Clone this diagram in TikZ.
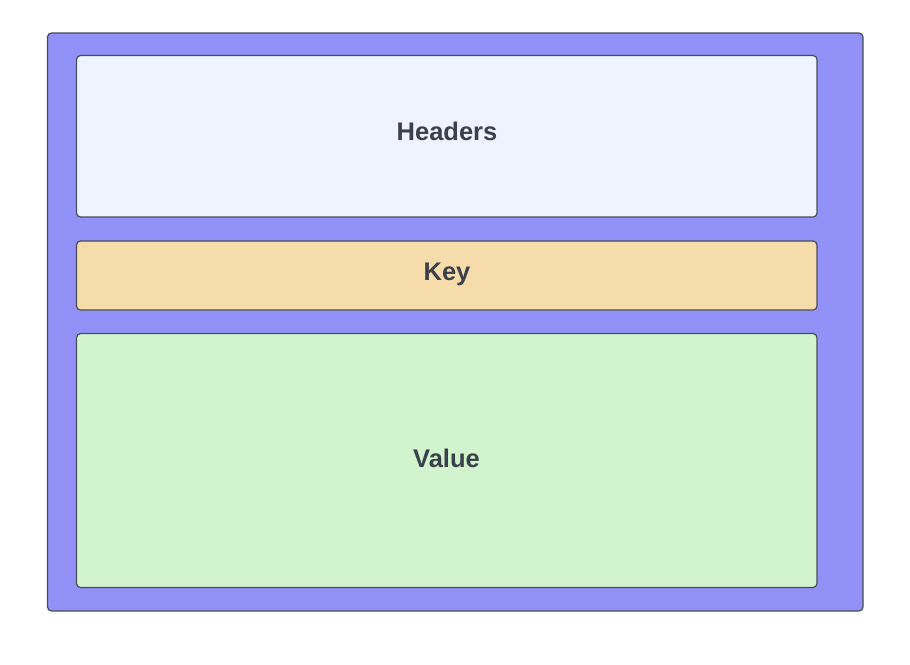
\documentclass[tikz,border=0pt]{standalone}
\usepackage{fontspec}
\setmainfont{Liberation Sans}
\definecolor{outerc}{HTML}{9191F7}
\definecolor{hdrc}{HTML}{EDF4FF}
\definecolor{keyc}{HTML}{F7DCAB}
\definecolor{valc}{HTML}{D1F4CE}
\definecolor{linec}{HTML}{474D57}
\definecolor{txtc}{HTML}{3A414A}
\tikzset{
  x=1pt,y=-1pt,
  panel/.style={draw=linec, line width=1.2pt, rounded corners=4pt},
  lbl/.style={text=txtc, anchor=base, inner sep=0pt, font=\fontsize{25.5}{29}\selectfont\bfseries}
}
\begin{document}
\begin{tikzpicture}
\useasboundingbox (0,0) rectangle (910,664);
\draw[panel, fill=outerc] (47.5,33) rectangle (863,611);
\draw[panel, fill=hdrc] (76.5,55.5) rectangle (817,217);
\draw[panel, fill=keyc] (76.5,241) rectangle (817,310);
\draw[panel, fill=valc] (76.5,333.5) rectangle (817,587.5);
\node[lbl] (headers) at (447,140.7) {Headers};
\node[lbl] (key) at (447,280.7) {Key};
\node[lbl] (value) at (446.5,467.3) {Value};
\end{tikzpicture}
\end{document}
